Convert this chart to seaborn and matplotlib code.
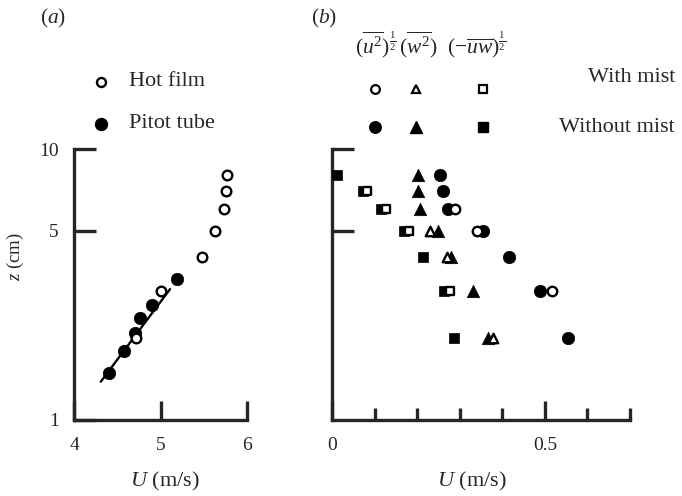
import numpy as np
import pandas as pd
import matplotlib
matplotlib.use("Agg")
import matplotlib.pyplot as plt
import seaborn as sns
from matplotlib.ticker import NullLocator

sns.set_style("ticks")
plt.rcParams['font.family'] = ['Liberation Serif', 'DejaVu Serif']
plt.rcParams['mathtext.fontset'] = 'custom'
plt.rcParams['mathtext.rm'] = 'Liberation Serif'
plt.rcParams['mathtext.it'] = 'Liberation Serif:italic'
plt.rcParams['mathtext.bf'] = 'Liberation Serif:bold'

# ---------------- data: panel (a) ----------------
hot_U = [5.77, 5.76, 5.73, 5.63, 5.48, 5.01, 4.72]
hot_z = [8, 7, 6, 5, 4, 3, 2]
pitot_U = [5.19, 4.90, 4.76, 4.70, 4.58, 4.40]
pitot_z = [3.3, 2.66, 2.37, 2.1, 1.8, 1.49]
fit_U = [4.31, 5.11]
fit_z = [1.385, 3.04]

# ---------------- data: panel (b) ----------------
z_levels = [8, 7, 6, 5, 4, 3, 2]
u_dry = [0.254, 0.260, 0.273, 0.355, 0.416, 0.488, 0.555]
w_dry = [0.203, 0.203, 0.207, 0.250, 0.280, 0.331, 0.367]
uw_dry = [0.011, 0.073, 0.115, 0.169, 0.214, 0.263, 0.286]
u_mist_z = [6, 5, 3]
u_mist = [0.289, 0.340, 0.516]
w_mist_z = [5, 4, 2]
w_mist = [0.230, 0.270, 0.379]
uw_mist_z = [7, 6, 5, 3]
uw_mist = [0.082, 0.127, 0.180, 0.277]

W, H = 682, 496
fig = plt.figure(figsize=(W / 100, H / 100), dpi=100)

def px_axes(l, r, b, t):
    return fig.add_axes([l / W, (H - b) / H, (r - l) / W, (b - t) / H])

ytop = 10 ** (420 / 271)
axa = px_axes(74, 247, 420, 0)
axb = px_axes(332, 630, 420, 0)

SP_W = 2.4
FS_TICK = 14
FS_LAB = 16

# ---- panel (a)
dfa_hot = pd.DataFrame({"U": hot_U, "z": hot_z})
dfa_pit = pd.DataFrame({"U": pitot_U, "z": pitot_z})
dfa_fit = pd.DataFrame({"U": fit_U, "z": fit_z})
sns.lineplot(data=dfa_fit, x="U", y="z", ax=axa, color="black", lw=1.7)
sns.scatterplot(data=dfa_pit, x="U", y="z", ax=axa, color="black", marker="o",
                s=80, edgecolor="black", linewidth=0.5, zorder=3, clip_on=False)
sns.scatterplot(data=dfa_hot, x="U", y="z", ax=axa, color="white", marker="o",
                s=48, edgecolor="black", linewidth=1.7, zorder=4, clip_on=False)

# ---- panel (b)
def pts(ax, x, y, marker, filled, s):
    df = pd.DataFrame({"U": x, "z": y})
    if filled:
        sns.scatterplot(data=df, x="U", y="z", ax=ax, color="black", marker=marker,
                        s=s, edgecolor="black", linewidth=0.5, zorder=3, clip_on=False)
    else:
        sns.scatterplot(data=df, x="U", y="z", ax=ax, color="white", marker=marker,
                        s=s * 0.75, edgecolor="black", linewidth=1.7, zorder=4, clip_on=False)

pts(axb, u_dry, z_levels, "o", True, 80)
pts(axb, w_dry, z_levels, "^", True, 80)
pts(axb, uw_dry, z_levels, "s", True, 52)
pts(axb, u_mist, u_mist_z, "o", False, 62)
pts(axb, w_mist, w_mist_z, "^", False, 62)
pts(axb, uw_mist, uw_mist_z, "s", False, 45)

for ax in (axa, axb):
    ax.set_yscale("log")
    ax.set_ylim(1, ytop)
    ax.yaxis.set_minor_locator(NullLocator())
    ax.spines["top"].set_visible(False)
    ax.spines["right"].set_visible(False)
    ax.spines["left"].set_linewidth(SP_W)
    ax.spines["bottom"].set_linewidth(SP_W)
    ax.spines["left"].set_bounds(1, 10)
    ax.set_xlabel("")
    ax.set_ylabel("")
    ax.patch.set_alpha(0)

axa.set_xlim(4, 6)
axa.spines["bottom"].set_bounds(4, 6)
axa.set_xticks([4, 5, 6])
axa.set_xticklabels(["4", "5", "6"])
axa.set_yticks([1, 5, 10])
axa.set_yticklabels(["1", "5", "10"])
axa.tick_params(axis="x", which="major", direction="in", length=14, width=SP_W,
                labelsize=FS_TICK, pad=12)
axa.tick_params(axis="y", which="major", direction="in", length=16, width=SP_W,
                labelsize=FS_TICK, pad=11)

axb.set_xlim(0, 0.7)
axb.spines["bottom"].set_bounds(0, 0.7)
axb.set_xticks([0, 0.5])
axb.set_xticklabels(["0", "0.5"])
axb.set_xticks([0.1, 0.2, 0.3, 0.4, 0.6, 0.7], minor=True)
axb.set_yticks([5, 10])
axb.set_yticklabels([])
axb.tick_params(axis="x", which="major", direction="in", length=14, width=SP_W,
                labelsize=FS_TICK, pad=12)
axb.tick_params(axis="x", which="minor", direction="in", length=9, width=SP_W)
axb.tick_params(axis="y", which="major", direction="in", length=16, width=SP_W)

# ---- text
def ftxt(x, y, s, **kw):
    fig.text(x / W, 1 - y / H, s, **kw)

ftxt(40, 18, r"($a$)", fontsize=15.5, va="center", ha="left")
ftxt(311, 18, r"($b$)", fontsize=15.5, va="center", ha="left")
ftxt(165, 481, r"$U$ (m/s)", fontsize=FS_LAB, ha="center", va="center")
ftxt(472, 481, r"$U$ (m/s)", fontsize=FS_LAB, ha="center", va="center")
ftxt(15, 257, r"$z$ (cm)", fontsize=13.5, ha="center", va="center", rotation=90)

# legend (a)
fig.lines.append(plt.Line2D([100.7 / W], [1 - 82 / H], marker="o", ms=6.5, mfc="white",
                            mec="black", mew=1.7, transform=fig.transFigure))
fig.lines.append(plt.Line2D([100.7 / W], [1 - 124 / H], marker="o", ms=8.6, mfc="black",
                            mec="black", transform=fig.transFigure))
ftxt(129, 81, "Hot film", fontsize=FS_LAB, va="center", ha="left")
ftxt(129, 123, "Pitot tube", fontsize=FS_LAB, va="center", ha="left")

# legend (b)
ftxt(431, 53, r"$(\overline{u^2})^{\frac{1}{2}}\,(\overline{w^2})\ \ (-\overline{uw})^{\frac{1}{2}}$",
     fontsize=15.5, ha="center", va="baseline")
for xpx, mk, so, sf in ((375, "o", 6.3, 8.3), (416, "^", 6.3, 8.3), (482.5, "s", 5.2, 6.8)):
    fig.lines.append(plt.Line2D([xpx / W], [1 - 89 / H], marker=mk, ms=so, mfc="white",
                                mec="black", mew=1.6, transform=fig.transFigure))
    fig.lines.append(plt.Line2D([xpx / W], [1 - 127 / H], marker=mk, ms=sf, mfc="black",
                                mec="black", transform=fig.transFigure))
ftxt(675, 77, "With mist", fontsize=FS_LAB, ha="right", va="center")
ftxt(675, 127, "Without mist", fontsize=FS_LAB, ha="right", va="center")

fig.savefig("out.png", dpi=100)
